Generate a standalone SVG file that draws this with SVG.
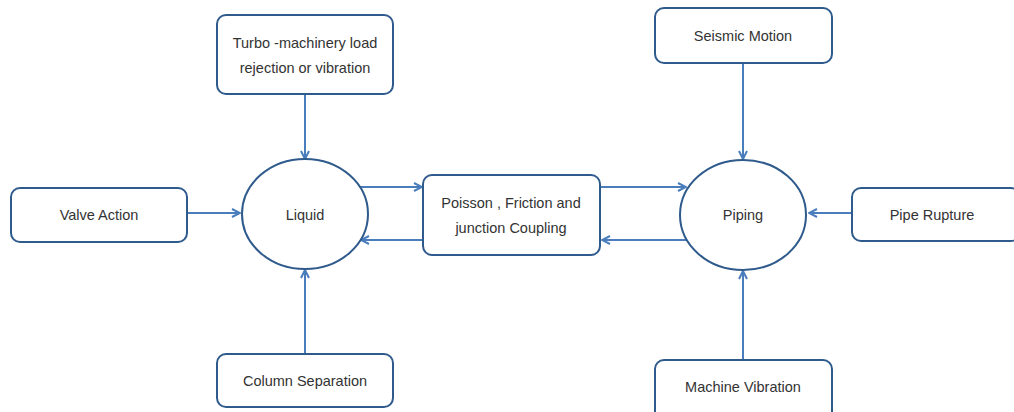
<svg xmlns="http://www.w3.org/2000/svg" width="1014" height="412" viewBox="0 0 1014 412">
<style>
.box{fill:#fff;stroke:#2f5a8c;stroke-width:2}
.ell{fill:#fff;stroke:#2f5a8c;stroke-width:2}
.t{font-family:"Liberation Sans",Arial,sans-serif;font-size:14.5px;fill:#333;text-anchor:middle}
.c{stroke:#4a7dbb;stroke-width:2;fill:none;marker-end:url(#ah)}
</style>
<defs>
<marker id="ah" viewBox="0 0 10 10" refX="9" refY="5" markerWidth="5" markerHeight="5" orient="auto" markerUnits="strokeWidth">
<path d="M1,1 L9,5 L1,9" fill="none" stroke="#4a7dbb" stroke-width="2"/>
</marker>
</defs>
<rect width="1014" height="412" fill="#fff"/>
<g id="connectors">
<line class="c" x1="305" y1="94" x2="305" y2="159"/>
<line class="c" x1="187" y1="213" x2="240" y2="213"/>
<line class="c" x1="305" y1="354" x2="305" y2="270"/>
<line class="c" x1="360" y1="187" x2="422" y2="187"/>
<line class="c" x1="423" y1="240" x2="361" y2="240"/>
<line class="c" x1="600" y1="187" x2="686" y2="187"/>
<line class="c" x1="687" y1="240" x2="602" y2="240"/>
<line class="c" x1="743" y1="63" x2="743" y2="159"/>
<line class="c" x1="852" y1="213" x2="809" y2="213"/>
<line class="c" x1="743" y1="360" x2="743" y2="271"/>
</g>
<g id="turbo"><rect class="box" x="217" y="15" width="176" height="79" rx="9"/><text class="t" x="305" y="48">Turbo -machinery load</text><text class="t" x="305" y="73">rejection or vibration</text></g>
<g id="valve"><rect class="box" x="11" y="188" width="176" height="54" rx="9"/><text class="t" x="99" y="220">Valve Action</text></g>
<g id="liquid"><ellipse class="ell" cx="305" cy="214" rx="63" ry="55"/><text class="t" x="305" y="220">Liquid</text></g>
<g id="column"><rect class="box" x="217" y="354" width="176" height="53" rx="9"/><text class="t" x="305" y="386">Column Separation</text></g>
<g id="poisson"><rect class="box" x="423" y="175" width="177" height="80" rx="9"/><text class="t" x="511" y="208">Poisson , Friction and</text><text class="t" x="511" y="233">junction Coupling</text></g>
<g id="piping"><ellipse class="ell" cx="743" cy="215" rx="63" ry="55"/><text class="t" x="743" y="220">Piping</text></g>
<g id="seismic"><rect class="box" x="655" y="8" width="177" height="55" rx="9"/><text class="t" x="743" y="41">Seismic Motion</text></g>
<g id="rupture"><rect class="box" x="852" y="188" width="168" height="53" rx="9"/><text class="t" x="932" y="220">Pipe Rupture</text></g>
<g id="machine"><rect class="box" x="655" y="360" width="177" height="60" rx="9"/><text class="t" x="743" y="392">Machine Vibration</text></g>
</svg>
